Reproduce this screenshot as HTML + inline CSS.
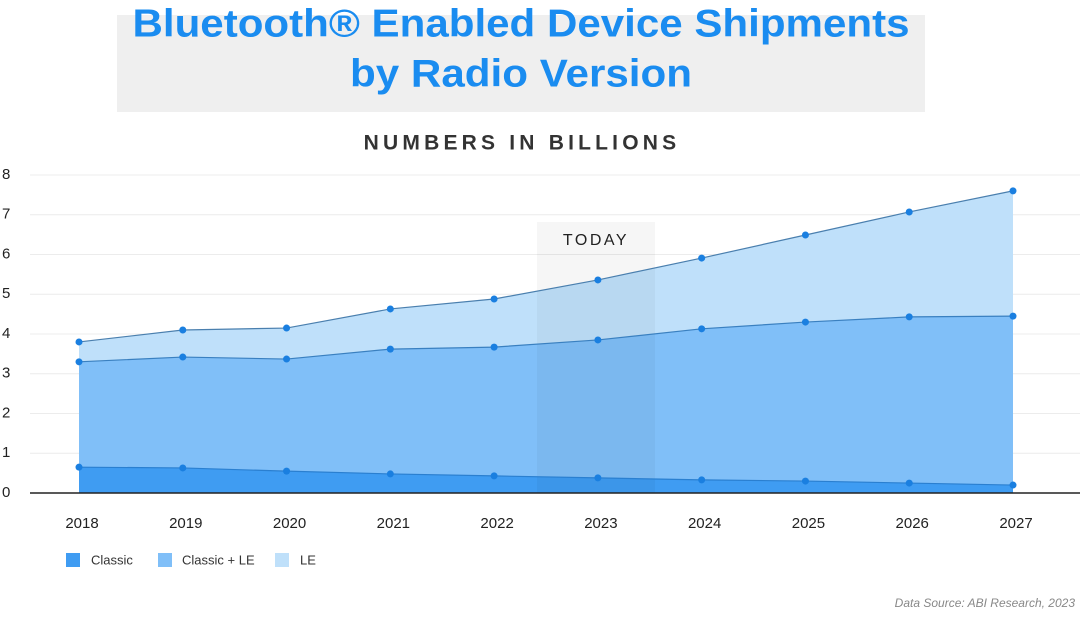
<!DOCTYPE html>
<html><head><meta charset="utf-8"><style>
html,body{margin:0;padding:0;background:#fff;}
body{width:1080px;height:618px;overflow:hidden;font-family:"Liberation Sans",sans-serif;}
</style></head><body>
<svg width="1080" height="618" viewBox="0 0 1080 618" xmlns="http://www.w3.org/2000/svg">
<rect x="117" y="15" width="808" height="97" fill="#efefef"/>
<text x="521" y="26" text-anchor="middle" dominant-baseline="middle" font-family="Liberation Sans, sans-serif" font-weight="bold" font-size="39" fill="#1a8cf0" textLength="777" lengthAdjust="spacingAndGlyphs">Bluetooth® Enabled Device Shipments</text>
<text x="521" y="76" text-anchor="middle" dominant-baseline="middle" font-family="Liberation Sans, sans-serif" font-weight="bold" font-size="39" fill="#1a8cf0" textLength="342" lengthAdjust="spacingAndGlyphs">by Radio Version</text>
<text x="522" y="144" text-anchor="middle" dominant-baseline="middle" font-family="Liberation Sans, sans-serif" font-weight="bold" font-size="21" letter-spacing="4.2" fill="#333">NUMBERS IN BILLIONS</text>
<g id="grid"></g>
<g id="areas"></g>
<rect x="537" y="222" width="118" height="271" fill="rgba(0,0,0,0.035)"/>
<text x="596" y="241" text-anchor="middle" dominant-baseline="middle" font-family="Liberation Sans, sans-serif" font-size="16" letter-spacing="2.5" fill="#222">TODAY</text>
<g id="lines"></g>
<line x1="30" y1="493" x2="1080" y2="493" stroke="#222" stroke-width="1.5"/>
<g id="xlabels"></g>
<g>
<rect x="66" y="553" width="14" height="14" fill="#3f9cf2"/>
<text x="91" y="561" dominant-baseline="middle" font-size="13" fill="#333">Classic</text>
<rect x="158" y="553" width="14" height="14" fill="#80bff8"/>
<text x="182" y="561" dominant-baseline="middle" font-size="13" fill="#333">Classic + LE</text>
<rect x="275" y="553" width="14" height="14" fill="#bfe0fa"/>
<text x="300" y="561" dominant-baseline="middle" font-size="13" fill="#333">LE</text>
</g>
<text x="1075" y="607" text-anchor="end" font-size="12" font-style="italic" fill="#888">Data Source: ABI Research, 2023</text>
</svg>
<script>
const years = ["2018","2019","2020","2021","2022","2023","2024","2025","2026","2027"];
const classic = [0.65,0.63,0.55,0.48,0.43,0.38,0.33,0.30,0.25,0.20];
const classicLE = [2.65,2.79,2.82,3.14,3.24,3.47,3.80,4.00,4.18,4.25];
const le = [0.50,0.68,0.78,1.01,1.21,1.51,1.78,2.19,2.64,3.15];
const yTicks = [0,1,2,3,4,5,6,7,8];

const NS = "http://www.w3.org/2000/svg";
function xPos(i){ return 79 + i*(1013-79)/(years.length-1); }
function yPos(v){ return 493 - v*(493-175)/8; }
function mk(tag, attrs, parent){
  const e = document.createElementNS(NS, tag);
  for (const k in attrs) e.setAttribute(k, attrs[k]);
  parent.appendChild(e);
  return e;
}
const grid = document.getElementById('grid');
yTicks.forEach(t => {
  if (t > 0) {
    const l = mk('line', {x1:30, x2:1080, y1:yPos(t), y2:yPos(t), stroke:'#ececec', 'stroke-width':1}, grid);
    
    
  }
  const tx = mk('text', {x:2, y:yPos(t), 'dominant-baseline':'middle', 'font-size':15, fill:'#222'}, grid);
  tx.textContent = t;
  
  
});
const c1 = classic.slice();
const c2 = classic.map((v,i) => v + classicLE[i]);
const c3 = c2.map((v,i) => v + le[i]);
const layers = [
  {lo: classic.map(()=>0), hi: c1, fill:'#3f9cf2', stroke:'#2a7fd0', name:'classic'},
  {lo: c1, hi: c2, fill:'#80bff8', stroke:'#3a80c0', name:'classic-le'},
  {lo: c2, hi: c3, fill:'#bfe0fa', stroke:'#4a7fae', name:'le'}
];
const areas = document.getElementById('areas');
const lines = document.getElementById('lines');
layers.forEach(L => {
  let d = '';
  L.hi.forEach((v,i) => { d += (i ? 'L' : 'M') + xPos(i) + ',' + yPos(v) + ' '; });
  for (let i = L.lo.length-1; i >= 0; i--) d += 'L' + xPos(i) + ',' + yPos(L.lo[i]) + ' ';
  const p = mk('path', {d: d + 'Z', fill: L.fill}, areas);
  
  
  const pts = L.hi.map((v,i) => xPos(i) + ',' + yPos(v)).join(' ');
  const pl = mk('polyline', {points: pts, fill:'none', stroke:L.stroke, 'stroke-width':1.2}, lines);
  
  
  L.hi.forEach((v,i) => {
    const c = mk('circle', {cx:xPos(i), cy:yPos(v), r:3.5, fill:'#1a7fe0'}, lines);
    
    
  });
});
const xl = document.getElementById('xlabels');
years.forEach((y,i) => {
  const t = mk('text', {x:xPos(i)+3, y:524, 'text-anchor':'middle', 'dominant-baseline':'middle', 'font-size':15, fill:'#222'}, xl);
  t.textContent = y;
  
  
});
</script>
</body></html>
